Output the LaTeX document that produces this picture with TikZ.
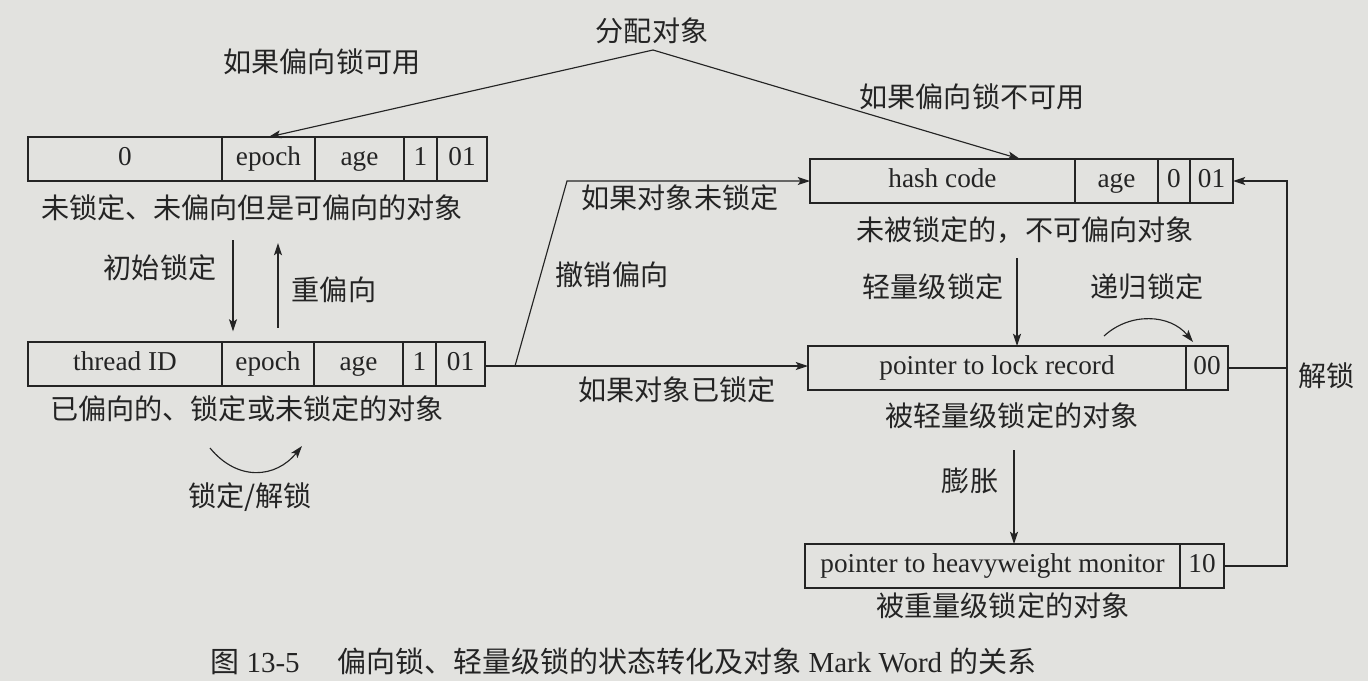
\documentclass[tikz,border=0pt]{standalone}
\usepackage{fontspec}
\setmainfont{Liberation Serif}
\newfontfamily\cjk{Noto Sans CJK SC}
\usetikzlibrary{arrows.meta}
\definecolor{paper}{RGB}{226,226,223}
\definecolor{ink}{RGB}{36,36,36}

% one field of a Mark Word: name, left x, right x, centre y, text
\newcommand\fld[5]{%
  \node[field, minimum width={(#3-#2)*0.02cm}] (#1) at ({(#2+#3)/2},#4) {#5};}

\begin{document}
\begin{tikzpicture}[x=0.02cm,y=-0.02cm,
  every node/.style={text=ink},
  field/.style={draw=ink, line width=0.85pt, inner sep=0pt, outer sep=0pt,
    minimum height=44*0.02cm, text height=0.75em, text depth=0.05em,
    font=\fontsize{15.5}{18}\selectfont},
  zh/.style={font=\cjk\fontsize{16}{19}\selectfont, inner sep=1pt},
  conn/.style={draw=ink, line width=0.65pt},
  arr/.style={conn, -{Stealth[length=7pt,width=4.6pt,inset=1.6pt]}},
]
\fill[paper] (0,0) rectangle (1368,681);
\useasboundingbox (0,0) rectangle (1368,681);

% unlocked, not yet biased but biasable
\fld{b1a}{28}{222}{159}{0}
\fld{b1b}{222}{315}{159}{epoch}
\fld{b1c}{315}{404}{159}{age}
\fld{b1d}{404}{437}{159}{1}
\fld{b1e}{437}{487}{159}{01}
\node[zh] (c1) at (252,208) {未锁定、未偏向但是可偏向的对象};

% biased (locked or unlocked)
\fld{b2a}{28}{222}{364}{thread ID}
\fld{b2b}{222}{314}{364}{epoch}
\fld{b2c}{314}{403}{364}{age}
\fld{b2d}{403}{436}{364}{1}
\fld{b2e}{436}{485}{364}{01}
\node[zh] (c2) at (247,409) {已偏向的、锁定或未锁定的对象};

% unlocked, not biasable
\fld{b3a}{810}{1075}{181}{hash code}
\fld{b3b}{1075}{1158}{181}{age}
\fld{b3c}{1158}{1190}{181}{0}
\fld{b3d}{1190}{1233}{181}{01}
\node[zh] (c3) at (1025,230) {未被锁定的，不可偏向对象};

% lightweight locked
\fld{b4a}{808}{1186}{368}{pointer to lock record}
\fld{b4b}{1186}{1228}{368}{00}
\node[zh] (c4) at (1012,416) {被轻量级锁定的对象};

% heavyweight locked
\fld{b5a}{805}{1180}{566}{pointer to heavyweight monitor}
\fld{b5b}{1180}{1224}{566}{10}
\node[zh] (c5) at (1003,606) {被重量级锁定的对象};

% object allocation
\coordinate (alloc) at (653,50);
\node[zh] (lalloc) at (652,31) {分配对象};
\draw[arr] (alloc) -- (b1b.north);
\draw[arr] (alloc) -- ([xshift=-1.1cm]b3a.north east);
\node[zh] (lbias) at (322,62) {如果偏向锁可用};
\node[zh] (lnobias) at (972,97) {如果偏向锁不可用};

% initial lock / rebias
\coordinate (dn) at (233,240);
\coordinate (up) at (278,243);
\draw[arr, shorten >=6pt] (dn) -- (dn |- b2b.north);
\draw[arr, shorten <=8pt] (up |- b2b.north) -- (up);
\node[zh] (linit) at (160,268) {初始锁定};
\node[zh] (lrebias) at (334,290) {重偏向};

% lock / unlock while biased
\coordinate (lu1) at (210,448);
\coordinate (lu2) at (302,446);
\draw[arr] (lu1) .. controls (238,482) and (276,478) .. (lu2);
\node[zh] (llu) at (250,497) {锁定/解锁};

% revoke bias
\coordinate (j) at (515,366);
\coordinate (k) at (567,0);
\draw[conn] (b2e.east |- j) -- (j);
\draw[arr] (j) -- (b4a.west |- j);
\draw[arr] (j) -- (k |- b3a.west) -- (b3a.west);
\node[zh] (lunl) at (680,198) {如果对象未锁定};
\node[zh] (lrev) at (612,275) {撤销偏向};
\node[zh] (llocked) at (677,390) {如果对象已锁定};

% lightweight locking
\coordinate (lw) at (1017,258);
\draw[arr] (lw) -- (lw |- b4a.north);
\node[zh] (llw) at (933,287) {轻量级锁定};

% recursive locking
\coordinate (rc1) at (1104,336);
\coordinate (rc2) at (1193,342);
\draw[arr] (rc1) .. controls (1130,312) and (1170,314) .. (rc2);
\node[zh] (lrec) at (1147,287) {递归锁定};

% inflation
\coordinate (inf) at (1014,450);
\draw[arr] (inf) -- (inf |- b5a.north);
\node[zh] (linf) at (970,481) {膨胀};

% unlock back to the unlocked state
\coordinate (rx) at (1287,0);
\draw[arr] (b5b.east) -| (rx |- b3d.east) -- (b3d.east);
\draw[conn] (b4b.east) -- (rx |- b4b.east);
\node[zh, anchor=west] (lunlock) at (1296,376) {解锁};

% figure caption
\node[anchor=west, inner sep=0pt, font=\fontsize{16.5}{19}\selectfont] (cap) at (210,661)
  {{\cjk 图} 13-5\hspace{1.3em}{\cjk 偏向锁、轻量级锁的状态转化及对象} Mark Word {\cjk 的关系}};
\end{tikzpicture}
\end{document}
